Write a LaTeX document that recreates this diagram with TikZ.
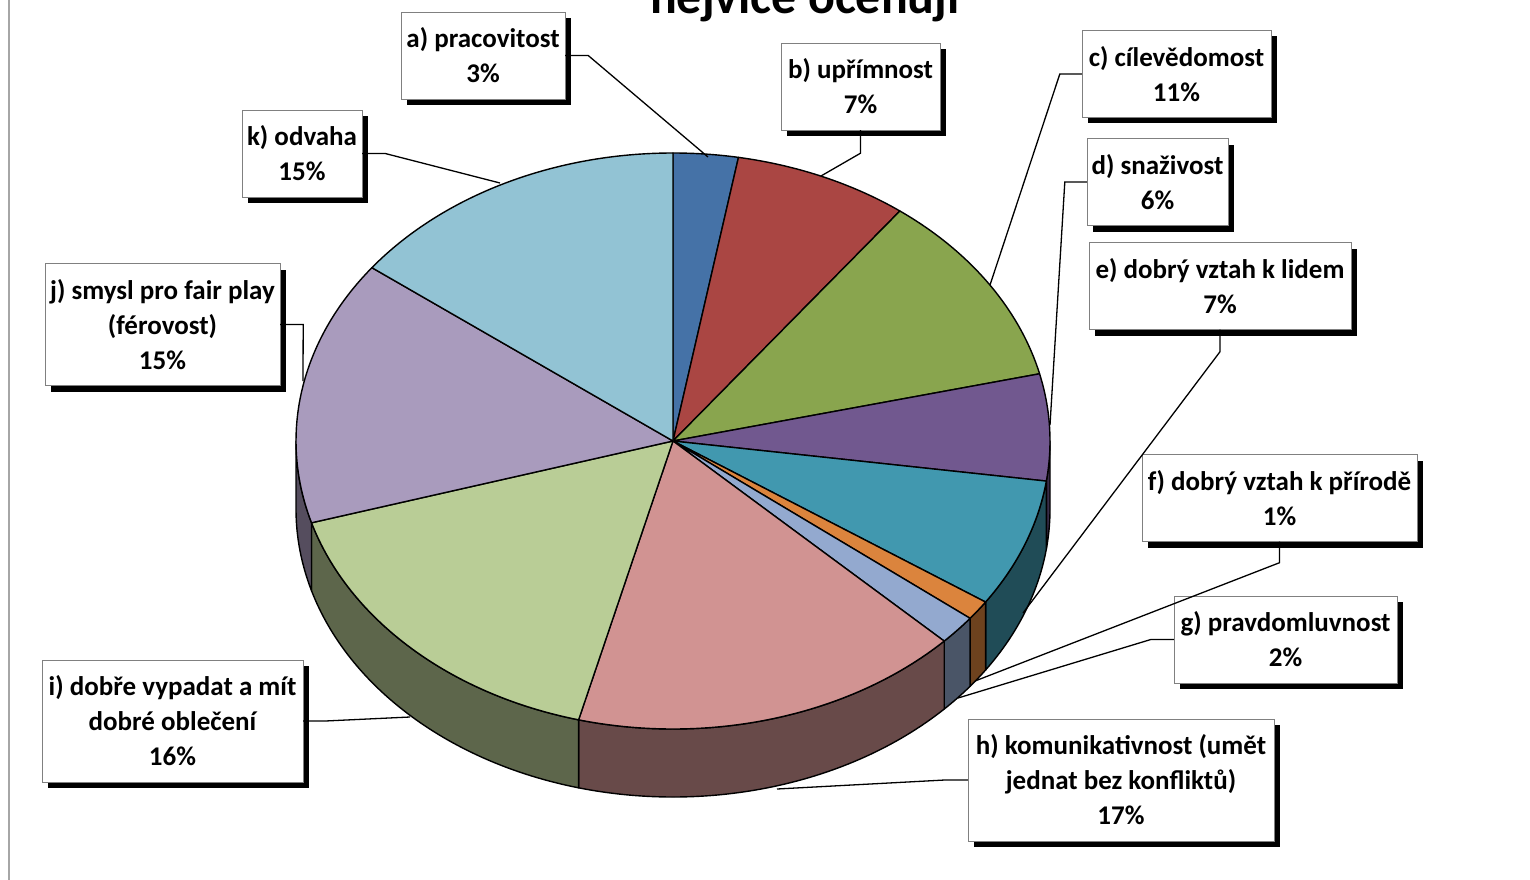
\documentclass[tikz,border=0pt]{standalone}
\usepackage{fontspec}
\setmainfont{Carlito}
\usetikzlibrary{shadows}
\definecolor{sa}{HTML}{4572A7}
\definecolor{sb}{HTML}{AA4643}
\definecolor{sc}{HTML}{89A54E}
\definecolor{sd}{HTML}{71588F}
\definecolor{se}{HTML}{4198AF}
\definecolor{sf}{HTML}{DB843D}
\definecolor{sg}{HTML}{93A9CF}
\definecolor{sh}{HTML}{D19392}
\definecolor{si}{HTML}{B9CD96}
\definecolor{sj}{HTML}{A99BBD}
\definecolor{sk}{HTML}{92C3D4}
\begin{document}
\begin{tikzpicture}[x=1pt, y=-1pt,
        slice/.style={draw=black, line width=1.4pt, line join=round},
        lbl/.style={draw=gray, fill=white, align=center, inner xsep=4pt,
            font=\fontsize{27}{35}\selectfont\bfseries,
            drop shadow={shadow xshift=6pt, shadow yshift=-6pt, fill=black, opacity=1}},
        two/.style={minimum height=87pt},
        three/.style={minimum height=122pt},
        leader/.style={draw=black, line width=1.3pt}]
    \useasboundingbox (0,0) rectangle (1530,880);
    \draw [gray!70, line width=1.5pt] (9,0) -- (9,880);
    \def\cx{673}\def\cy{441}\def\rx{377}\def\ry{288}\def\dep{68}
    % side walls of the front half
    \foreach \a/\b/\c in {0/8/sd, 8/34/se, 34/38/sf, 38/44/sg, 44/104.5/sh, 104.5/163.5/si, 163.5/180/sj}
        \draw [slice, fill=\c!50!black] ({\cx+\rx*cos(\a)},{\cy+\ry*sin(\a)})
            arc [start angle=\a, end angle=\b, x radius=\rx, y radius=\ry] -- ++(0,\dep)
            arc [start angle=\b, end angle=\a, x radius=\rx, y radius=\ry] -- cycle;
    % top faces
    \foreach \a/\b/\c in {-90/-80/sa, -80/-53/sb, -53/-13.5/sc, -13.5/8/sd, 8/34/se, 34/38/sf, 38/44/sg, 44/104.5/sh, 104.5/163.5/si, 163.5/217/sj, 217/270/sk}
        \draw [slice, fill=\c] (\cx,\cy) -- ({\cx+\rx*cos(\a)},{\cy+\ry*sin(\a)})
            arc [start angle=\a, end angle=\b, x radius=\rx, y radius=\ry] -- cycle;
    % title, cut at the top
    \node [font=\fontsize{50}{54}\selectfont\bfseries, anchor=base] (title) at (805,14) {nejvíce oceňují};
    % labels
    \node [lbl, two, minimum width=164pt] (la) at (483,55.5) {a) pracovitost\\3\%};
    \node [lbl, two, minimum width=159pt] (lb) at (860.5,86.5) {b) upřímnost\\7\%};
    \node [lbl, two, minimum width=189pt] (lc) at (1176.5,74) {c) cílevědomost\\11\%};
    \node [lbl, two, minimum width=141pt] (ld) at (1157.5,182) {d) snaživost\\6\%};
    \node [lbl, two, minimum width=262pt] (le) at (1220,286) {e) dobrý vztah k lidem\\7\%};
    \node [lbl, two, minimum width=275pt] (lf) at (1279.5,498) {f) dobrý vztah k přírodě\\1\%};
    \node [lbl, two, minimum width=223pt] (lg) at (1285.5,639.5) {g) pravdomluvnost\\2\%};
    \node [lbl, three, minimum width=306pt] (lh) at (1121,780) {h) komunikativnost (umět\\jednat bez konfliktů)\\17\%};
    \node [lbl, three, minimum width=261pt] (li) at (172.5,721) {i) dobře vypadat a mít\\dobré oblečení\\16\%};
    \node [lbl, three, minimum width=235pt] (lj) at (162.5,324.5) {j) smysl pro fair play\\(férovost)\\15\%};
    \node [lbl, two, minimum width=120pt] (lk) at (302,153.5) {k) odvaha\\15\%};
    % leader ends on the pie
    \coordinate (pa) at (708,157);
    \coordinate (pb) at (821,176);
    \coordinate (pc) at (990,285);
    \coordinate (pd) at (1050,425);
    \coordinate (pe) at (1023,613);
    \coordinate (pf) at (975,681);
    \coordinate (pg) at (958,698);
    \coordinate (ph) at (777,789);
    \coordinate (pi) at (410,717);
    \coordinate (pj) at (303,381);
    \coordinate (pk) at (500,183);
    \draw [leader] (la.east) -- ++(23,0) -- (pa);
    \draw [leader] (lb.south) -- ++(0,23) -- (pb);
    \draw [leader] (lc.west) -- ++(-22,0) -- (pc);
    \draw [leader] (ld.west) -- ++(-22,0) -- (pd);
    \draw [leader] (le.south) -- ++(0,22) -- (pe);
    \draw [leader] (lf.south) -- ++(0,21) -- (pf);
    \draw [leader] (lg.west) -- ++(-23,0) -- (pg);
    \draw [leader] (lh.west) -- ++(-23,0) -- (ph);
    \draw [leader] (li.east) -- ++(22,0) -- (pi);
    \draw [leader] (lj.east) -- ++(23,0) -- (pj);
    \draw [leader] (lk.east) -- ++(23,0) -- (pk);
\end{tikzpicture}
\end{document}
